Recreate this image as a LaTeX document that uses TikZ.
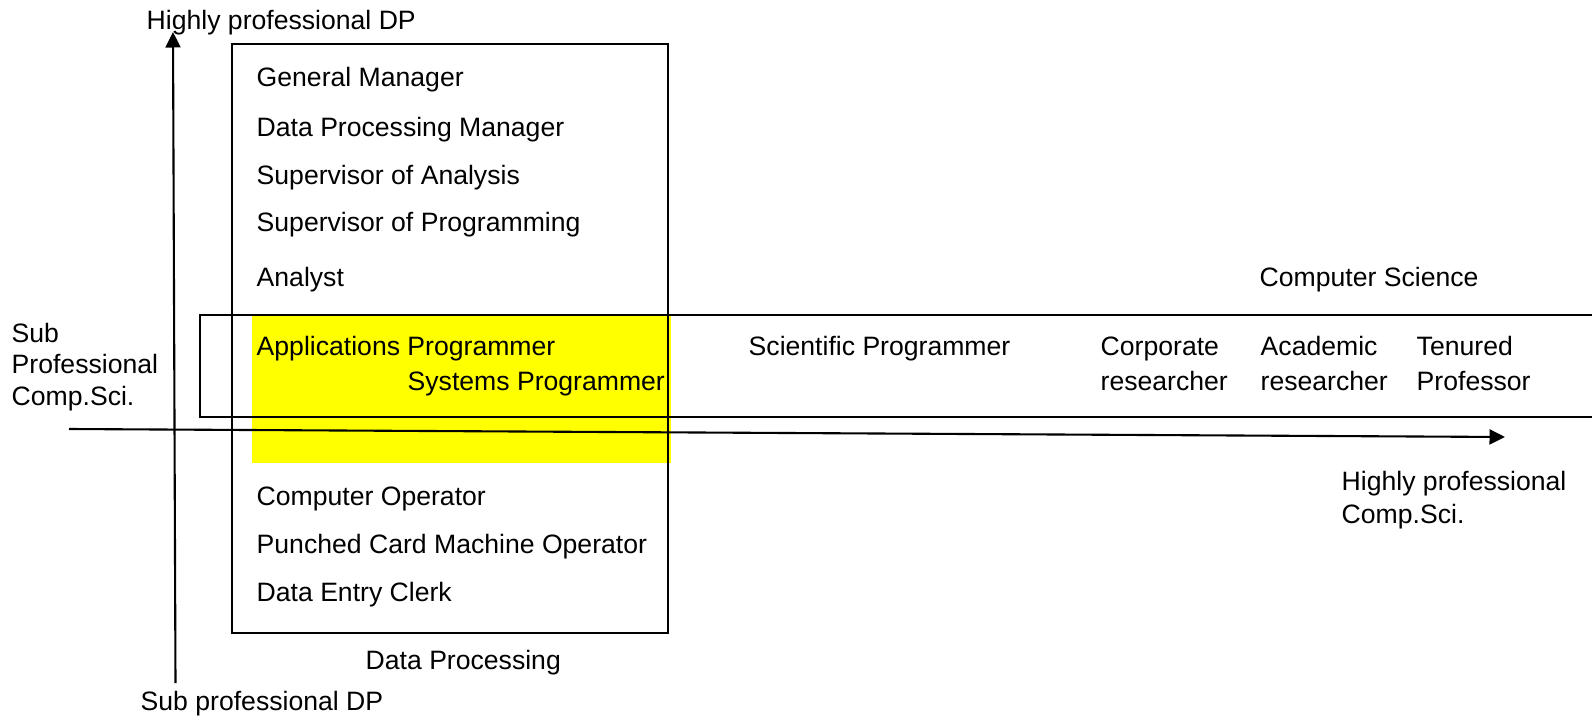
\documentclass[tikz,border=0pt]{standalone}
\usepackage{fontspec}
\setmainfont{Liberation Sans}
\usetikzlibrary{arrows.meta}
\begin{document}
\begin{tikzpicture}[x=1pt,y=-1pt,
  lbl/.style={anchor=base west, inner sep=0pt, font=\fontsize{26.6}{34}\selectfont, align=left},
  axis/.style={line width=2.1pt, -{Triangle[length=15.5pt,width=15pt]}},
  frame/.style={line width=1.8pt},
  hilite/.style={fill={rgb,255:red,255;green,255;blue,0}, draw=none}]
\useasboundingbox (0,0) rectangle (1592,719);
% highlight
\coordinate (y1) at (252,315); \coordinate (y2) at (671,463);
\fill[hilite] (y1) rectangle (y2);
% Data Processing box
\coordinate (dp1) at (232,44); \coordinate (dp2) at (668,633);
\draw[frame] (dp1) rectangle (dp2);
% Computer Science band (open to the right)
\coordinate (cs1) at (1592,315); \coordinate (cs2) at (200,315);
\coordinate (cs3) at (200,417); \coordinate (cs4) at (1592,417);
\draw[frame] (cs1) -- (cs2) -- (cs3) -- (cs4);
% axes
\coordinate (vbot) at (175.5,683); \coordinate (vtop) at (173,32);
\draw[axis] (vbot) -- (vtop);
\coordinate (hl) at (69,429); \coordinate (hr) at (1505,437);
\draw[axis] (hl) -- (hr);
% labels (multi-line nodes are placed by the baseline of their last line)
\node[lbl] (hpdp) at (146.5,30) {Highly professional DP};
\node[lbl] (gm) at (256.5,87) {General Manager};
\node[lbl] (dpm) at (256.5,137) {Data Processing Manager};
\node[lbl] (soa) at (256.5,185) {Supervisor of Analysis};
\node[lbl] (sop) at (256.5,232) {Supervisor of Programming};
\node[lbl] (an) at (256.5,287) {Analyst};
\node[lbl] (cs) at (1259.5,287) {Computer Science};
\node[lbl, font=\fontsize{26.6}{31.5}\selectfont] (subcs) at (11.5,405) {Sub\\Professional\\Comp.Sci.};
\node[lbl] (ap) at (256.5,355) {Applications Programmer};
\node[lbl] (sp) at (407.5,390) {Systems Programmer};
\node[lbl] (scp) at (748.5,355) {Scientific Programmer};
\node[lbl, font=\fontsize{26.6}{34.5}\selectfont] (cr) at (1100.5,390) {Corporate\\researcher};
\node[lbl, font=\fontsize{26.6}{34.5}\selectfont] (ar) at (1260.5,390) {Academic\\researcher};
\node[lbl, font=\fontsize{26.6}{34.5}\selectfont] (tp) at (1416.5,390) {Tenured\\Professor};
\node[lbl, font=\fontsize{26.6}{33}\selectfont] (hpcs) at (1341.5,523) {Highly professional\\Comp.Sci.};
\node[lbl] (co) at (256.5,505) {Computer Operator};
\node[lbl] (pc) at (256.5,553) {Punched Card Machine Operator};
\node[lbl] (de) at (256.5,601) {Data Entry Clerk};
\node[lbl] (dp) at (365.5,669) {Data Processing};
\node[lbl] (spdp) at (140.5,710) {Sub professional DP};
\end{tikzpicture}
\end{document}
